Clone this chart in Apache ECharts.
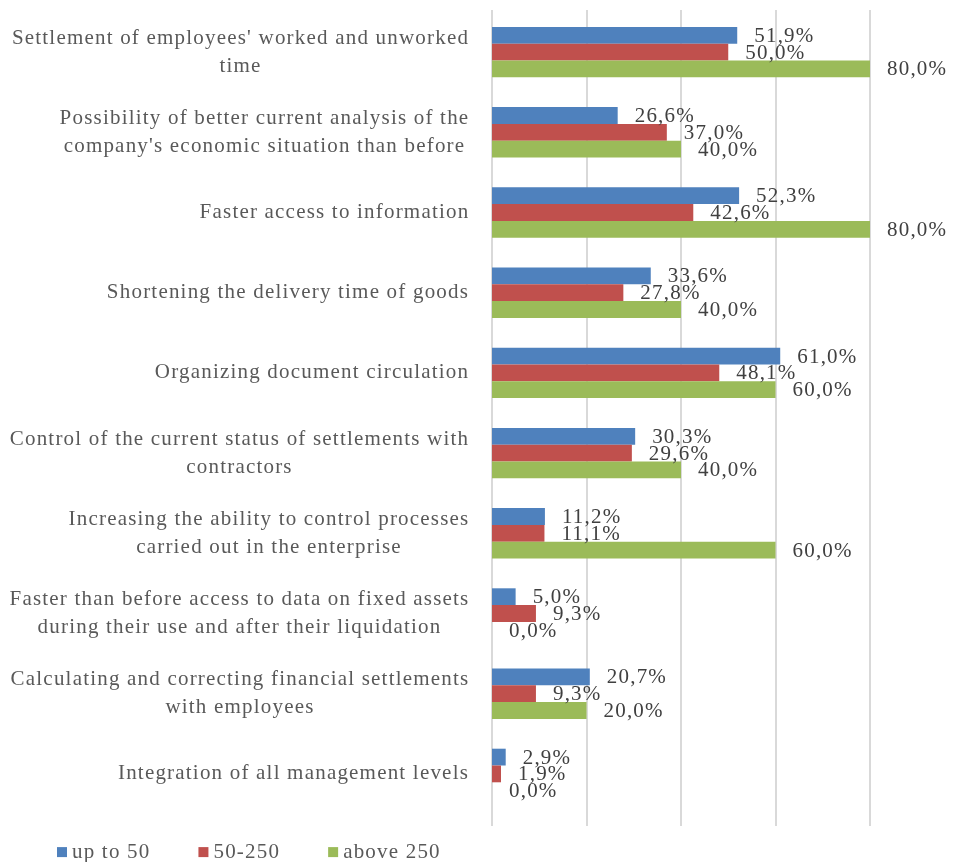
<!DOCTYPE html>
<html><head><meta charset="utf-8">
<script src="https://cdn.jsdelivr.net/npm/echarts@6/dist/echarts.min.js"></script>
<style>html,body{margin:0;padding:0;background:#fff}#c{width:955px;height:862px}</style>
</head><body><div id="c"></div>
<script>
const categories = [
  "Settlement of employees' worked and unworked\ntime",
  "Possibility of better current analysis of the\ncompany's economic situation than before",
  "Faster access to information",
  "Shortening the delivery time of goods",
  "Organizing document circulation",
  "Control of the current status of settlements with\ncontractors",
  "Increasing the ability to control processes\ncarried out in the enterprise",
  "Faster than before access to data on fixed assets\nduring their use and after their liquidation",
  "Calculating and correcting financial settlements\nwith employees",
  "Integration of all management levels"
];
const seriesNames = ["up to 50", "50-250", "above 250"];
const upTo50 = [51.9, 26.6, 52.3, 33.6, 61.0, 30.3, 11.2, 5.0, 20.7, 2.9];
const s50to250 = [50.0, 37.0, 42.6, 27.8, 48.1, 29.6, 11.1, 9.3, 9.3, 1.9];
const above250 = [80.0, 40.0, 80.0, 40.0, 60.0, 40.0, 60.0, 0.0, 20.0, 0.0];
const xTicks = [0, 20, 40, 60, 80];

// Wider, Excel-like glyph spacing
const LS = '1.2px';
const P = CanvasRenderingContext2D.prototype;
const oFill = P.fillText, oMeasure = P.measureText;
P.fillText = function () { try { this.letterSpacing = LS; } catch (e) {} return oFill.apply(this, arguments); };
P.measureText = function () { try { this.letterSpacing = LS; } catch (e) {} return oMeasure.apply(this, arguments); };

const colors = ["#4f81bd", "#c0504d", "#9bbb59"];
const FONT = '"Liberation Serif", "Times New Roman", serif';
const CAT_SIZE = 21;

const cv = document.createElement('canvas').getContext('2d');
cv.font = CAT_SIZE + 'px "Liberation Serif"';
const rich = {};
categories.forEach((c, i) => {
  const w = Math.max(...c.split('\n').map(l => cv.measureText(l).width));
  rich['l' + i] = { width: Math.ceil(w) + 1, align: 'center', fontFamily: FONT, fontSize: CAT_SIZE, color: '#595959', lineHeight: 28 };
});

const fmt = v => v.toFixed(1).replace('.', ',') + '%';
const mk = (name, data, color) => ({
  name, type: 'bar', data, barWidth: 16.8, barGap: '0%',
  itemStyle: { color },
  label: { show: true, position: 'right', distance: 17, offset: [0, 1], formatter: p => fmt(p.value),
    fontFamily: FONT, fontSize: 21, color: '#404040' }
});

const chart = echarts.init(document.getElementById('c'));
chart.setOption({
  animation: false,
  grid: [
    { left: 492, right: 85, top: 12, bottom: 48 },
    { left: 492, right: 85, top: 10, bottom: 36 }
  ],
  xAxis: [
    { type: 'value', gridIndex: 0, min: xTicks[0], max: xTicks[xTicks.length - 1], interval: 20,
      axisLabel: { show: false }, axisLine: { show: false }, axisTick: { show: false }, splitLine: { show: false } },
    { type: 'value', gridIndex: 1, min: xTicks[0], max: xTicks[xTicks.length - 1], interval: 20,
      axisLabel: { show: false }, axisLine: { show: false }, axisTick: { show: false },
      splitLine: { lineStyle: { color: '#d9d9d9', width: 2 } } }
  ],
  yAxis: [
    { type: 'category', gridIndex: 0, data: categories, inverse: true,
      axisLine: { show: false }, axisTick: { show: false },
      axisLabel: { interval: 0, margin: 22, formatter: (v) => {
        const i = categories.indexOf(v);
        return v.split('\n').map(l => '{l' + i + '|' + l + '}').join('\n');
      }, rich } },
    { type: 'value', gridIndex: 1, show: false, splitLine: { show: false } }
  ],
  legend: { data: seriesNames, left: 52, top: 836, itemWidth: 10, itemHeight: 10, itemGap: 48,
    icon: 'rect', textStyle: { fontFamily: FONT, fontSize: 21, color: '#595959' } },
  series: [mk(seriesNames[0], upTo50, colors[0]), mk(seriesNames[1], s50to250, colors[1]), mk(seriesNames[2], above250, colors[2])]
});
</script></body></html>
